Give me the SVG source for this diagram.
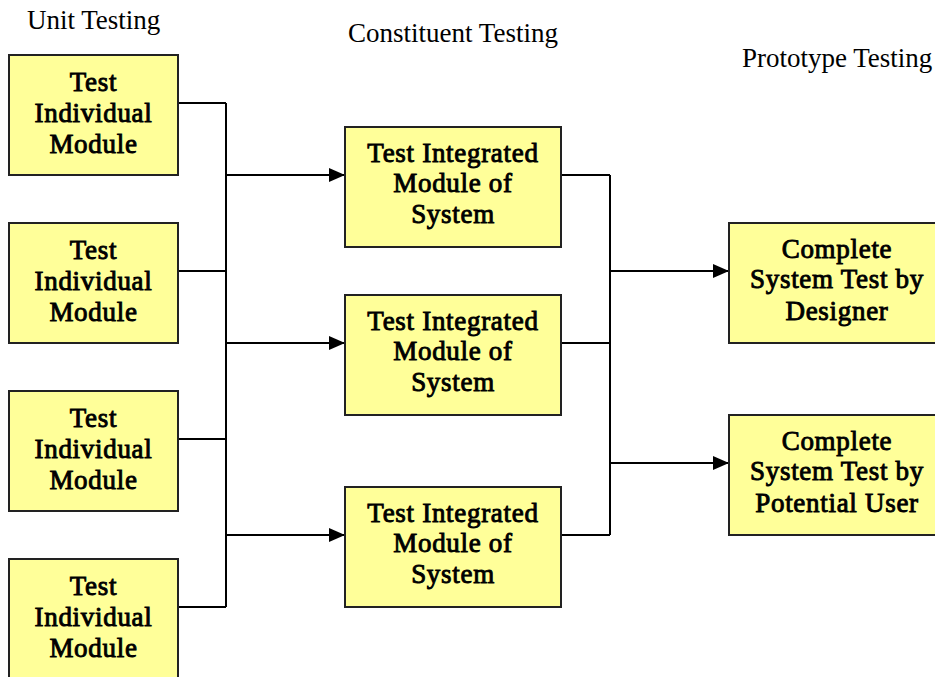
<svg xmlns="http://www.w3.org/2000/svg" width="935" height="677" viewBox="0 0 935 677">
<style>
.box{fill:#FFFF99;stroke:#222;stroke-width:2}
.t{font-family:'Liberation Serif','Times New Roman',serif;font-size:27px;font-weight:normal;fill:#000;stroke:#000;stroke-width:0.9;letter-spacing:0.7px;text-anchor:middle}
.lbl{font-family:'Liberation Serif','Times New Roman',serif;font-size:27px;fill:#000}
.c{fill:none;stroke:#000;stroke-width:2}
</style>
<defs>
<marker id="arr" markerWidth="16" markerHeight="14" refX="16" refY="7" orient="auto" markerUnits="userSpaceOnUse">
<path d="M0,0 L16,7 L0,14 Z" fill="#000"/>
</marker>
</defs>
<rect width="935" height="677" fill="#fff"/>
<text class="lbl" x="27" y="29">Unit Testing</text>
<text class="lbl" x="453" y="42" text-anchor="middle">Constituent Testing</text>
<text class="lbl" x="742" y="67">Prototype Testing</text>

<g id="connectors">
<path class="c" d="M178,103 H226 M178,271 H226 M178,439 H226 M178,607 H226 M226,103 V607"/>
<path class="c" d="M226,175 H345" marker-end="url(#arr)"/>
<path class="c" d="M226,343 H345" marker-end="url(#arr)"/>
<path class="c" d="M226,535 H345" marker-end="url(#arr)"/>
<path class="c" d="M561,175 H610 M561,343 H610 M561,535 H610 M610,175 V535"/>
<path class="c" d="M610,271 H729" marker-end="url(#arr)"/>
<path class="c" d="M610,463 H729" marker-end="url(#arr)"/>
</g>

<g id="unit1"><rect class="box" x="9" y="55" width="169" height="120"/>
<text class="t" x="93.5" y="91">Test</text><text class="t" x="93.5" y="122">Individual</text><text class="t" x="93.5" y="153">Module</text></g>
<g id="unit2"><rect class="box" x="9" y="223" width="169" height="120"/>
<text class="t" x="93.5" y="259">Test</text><text class="t" x="93.5" y="290">Individual</text><text class="t" x="93.5" y="321">Module</text></g>
<g id="unit3"><rect class="box" x="9" y="391" width="169" height="120"/>
<text class="t" x="93.5" y="427">Test</text><text class="t" x="93.5" y="458">Individual</text><text class="t" x="93.5" y="489">Module</text></g>
<g id="unit4"><rect class="box" x="9" y="559" width="169" height="120"/>
<text class="t" x="93.5" y="595">Test</text><text class="t" x="93.5" y="626">Individual</text><text class="t" x="93.5" y="657">Module</text></g>

<g id="integ1"><rect class="box" x="345" y="127" width="216" height="120"/>
<text class="t" x="453" y="162">Test Integrated</text><text class="t" x="453" y="192">Module of</text><text class="t" x="453" y="223">System</text></g>
<g id="integ2"><rect class="box" x="345" y="295" width="216" height="120"/>
<text class="t" x="453" y="330">Test Integrated</text><text class="t" x="453" y="360">Module of</text><text class="t" x="453" y="391">System</text></g>
<g id="integ3"><rect class="box" x="345" y="487" width="216" height="120"/>
<text class="t" x="453" y="522">Test Integrated</text><text class="t" x="453" y="552">Module of</text><text class="t" x="453" y="583">System</text></g>

<g id="proto1"><rect class="box" x="729" y="223" width="216" height="120"/>
<text class="t" x="837" y="258">Complete</text><text class="t" x="837" y="288">System Test by</text><text class="t" x="837" y="320">Designer</text></g>
<g id="proto2"><rect class="box" x="729" y="415" width="216" height="120"/>
<text class="t" x="837" y="450">Complete</text><text class="t" x="837" y="480">System Test by</text><text class="t" x="837" y="512">Potential User</text></g>
</svg>
